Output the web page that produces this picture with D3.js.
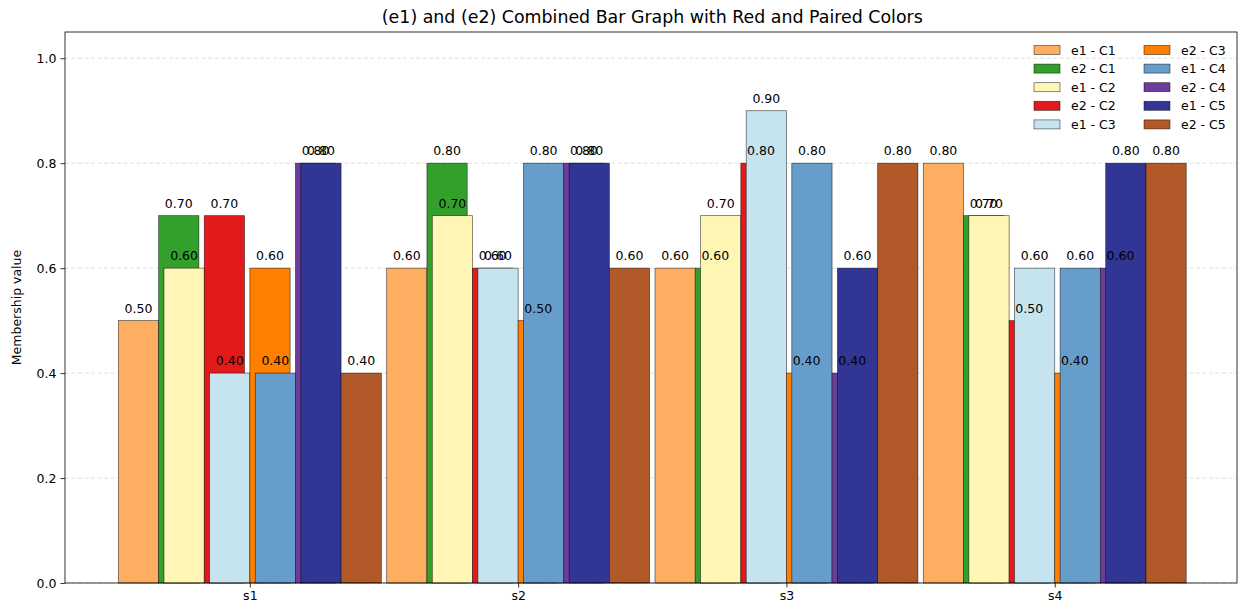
<!DOCTYPE html>
<html>
<head>
<meta charset="utf-8">
<script src="https://cdn.jsdelivr.net/npm/d3@7"></script>
<style>
  body { margin: 0; background: #fff; }
  svg { font-family: "DejaVu Sans", sans-serif; }
</style>
</head>
<body>
<svg id="chart"></svg>
<script>
// groups on the x axis
const groups = ['s1', 's2', 's3', 's4'];
const categories = ['C1', 'C2', 'C3', 'C4', 'C5'];

// membership values per category, one entry per group
const e1C1 = [0.5, 0.6, 0.6, 0.8];
const e1C2 = [0.6, 0.7, 0.7, 0.7];
const e1C3 = [0.4, 0.6, 0.9, 0.6];
const e1C4 = [0.4, 0.8, 0.8, 0.6];
const e1C5 = [0.8, 0.8, 0.6, 0.8];

const e2C1 = [0.7, 0.8, 0.6, 0.7];
const e2C2 = [0.7, 0.6, 0.8, 0.5];
const e2C3 = [0.6, 0.5, 0.4, 0.4];
const e2C4 = [0.8, 0.8, 0.4, 0.6];
const e2C5 = [0.4, 0.6, 0.8, 0.8];

const yTicks = [0.0, 0.2, 0.4, 0.6, 0.8, 1.0];

const e1Colors = ['#fdae61', '#fff5b5', '#c6e4ef', '#669dcb', '#313695'];
const e2Colors = ['#33a02c', '#e31a1c', '#ff7f00', '#6a3d9a', '#b15928'];

const e1Vals = [e1C1, e1C2, e1C3, e1C4, e1C5];
const e2Vals = [e2C1, e2C2, e2C3, e2C4, e2C5];

// draw order is e1-C1, e2-C1, e1-C2, e2-C2 ...
let series = [];
categories.forEach((c, k) => {
  series.push({ name: 'e1 - ' + c, k: k, side: -1, color: e1Colors[k], values: e1Vals[k] });
  series.push({ name: 'e2 - ' + c, k: k, side: 1, color: e2Colors[k], values: e2Vals[k] });
});

const config = {
  width: 1238, height: 610,
  margin: { top: 32, right: 1, bottom: 27, left: 65 }
};
const barWidth = 0.15;
const step = 0.17;

const width = config.width - config.margin.left - config.margin.right;
const height = config.height - config.margin.top - config.margin.bottom;

const svg = d3.select('#chart')
  .attr('width', config.width)
  .attr('height', config.height);

const chart = svg.append('g')
  .attr('transform', `translate(${config.margin.left},${config.margin.top})`);

// the plot area runs a little past the right edge of the picture
const edge = (groups.length - 1) + 2 * step + barWidth;
const pad = (edge + 2 * step + barWidth) * 0.05;
const xScale = d3.scaleLinear()
  .domain([-(2 * step + barWidth) - pad, edge + pad])
  .range([0, width + 2.6]);

const yScale = d3.scaleLinear()
  .domain([0, 1.05])
  .range([height, 0]);

// horizontal grid
chart.append('g')
  .selectAll('line')
  .data(yTicks)
  .join('line')
  .attr('x1', 0).attr('x2', width)
  .attr('y1', d => yScale(d)).attr('y2', d => yScale(d))
  .attr('stroke', '#b0b0b0')
  .attr('stroke-opacity', 0.5)
  .attr('stroke-width', 0.8)
  .attr('stroke-dasharray', '4,2.5');

const barX = (s, i) => xScale(i + (s.k - 2) * step + (s.side < 0 ? -barWidth : 0));

// bars
series.forEach(s => {
  chart.append('g')
    .selectAll('rect')
    .data(s.values)
    .join('rect')
    .attr('x', (d, i) => barX(s, i))
    .attr('width', xScale(barWidth) - xScale(0))
    .attr('y', d => yScale(d))
    .attr('height', d => height - yScale(d))
    .attr('fill', s.color)
    .attr('stroke', '#000')
    .attr('stroke-opacity', 0.65)
    .attr('stroke-width', 0.7);
});

// value labels on top of everything
series.forEach(s => {
  chart.append('g')
    .selectAll('text')
    .data(s.values)
    .join('text')
    .attr('x', (d, i) => barX(s, i) + (xScale(barWidth) - xScale(0)) / 2)
    .attr('y', d => yScale(d) - 8)
    .attr('text-anchor', 'middle')
    .style('font-size', '12.5px')
    .style('fill', '#000')
    .text(d => d.toFixed(2));
});

// axes
const xAxis = d3.axisBottom(xScale)
  .tickValues(d3.range(groups.length))
  .tickFormat(i => groups[i])
  .tickSizeOuter(0)
  .tickSize(4.5)
  .tickPadding(4);

const yAxis = d3.axisLeft(yScale)
  .tickValues(yTicks)
  .tickFormat(d3.format('.1f'))
  .tickSizeOuter(0)
  .tickSize(4.5)
  .tickPadding(4);

const xAxisG = chart.append('g')
  .attr('transform', `translate(0,${height})`)
  .call(xAxis);
const yAxisG = chart.append('g').call(yAxis);

[xAxisG, yAxisG].forEach(g => {
  g.selectAll('text').style('font-size', '12.5px').style('fill', '#000').style('font-family', 'DejaVu Sans');
  g.selectAll('line').attr('stroke', '#000').attr('stroke-width', 0.8);
  g.select('.domain').remove();
});

// frame
chart.append('rect')
  .attr('width', width).attr('height', height)
  .attr('fill', 'none')
  .attr('stroke', '#000')
  .attr('stroke-width', 0.8);

chart.append('text')
  .attr('x', xScale(1.5))
  .attr('y', -9)
  .attr('text-anchor', 'middle')
  .style('font-size', '17.4px')
  .text('(e1) and (e2) Combined Bar Graph with Red and Paired Colors');

svg.append('text')
  .attr('transform', `translate(21,${config.margin.top + height / 2}) rotate(-90)`)
  .attr('text-anchor', 'middle')
  .style('font-size', '12.5px')
  .text('Membership value');

// legend, two columns filled top to bottom
const legend = chart.append('g')
  .attr('transform', `translate(${width - 203},${12})`);
const rows = 5;
const legendItem = legend.selectAll('g')
  .data(series)
  .join('g')
  .attr('transform', (d, i) => `translate(${Math.floor(i / rows) * 110},${(i % rows) * 18.6})`);
legendItem.append('rect')
  .attr('x', 0).attr('y', 1.5)
  .attr('width', 26).attr('height', 9)
  .attr('fill', d => d.color)
  .attr('stroke', '#000')
  .attr('stroke-opacity', 0.65)
  .attr('stroke-width', 0.7);
legendItem.append('text')
  .attr('x', 37)
  .attr('y', 10.5)
  .style('font-size', '12.5px')
  .text(d => d.name);
</script>
</body>
</html>
